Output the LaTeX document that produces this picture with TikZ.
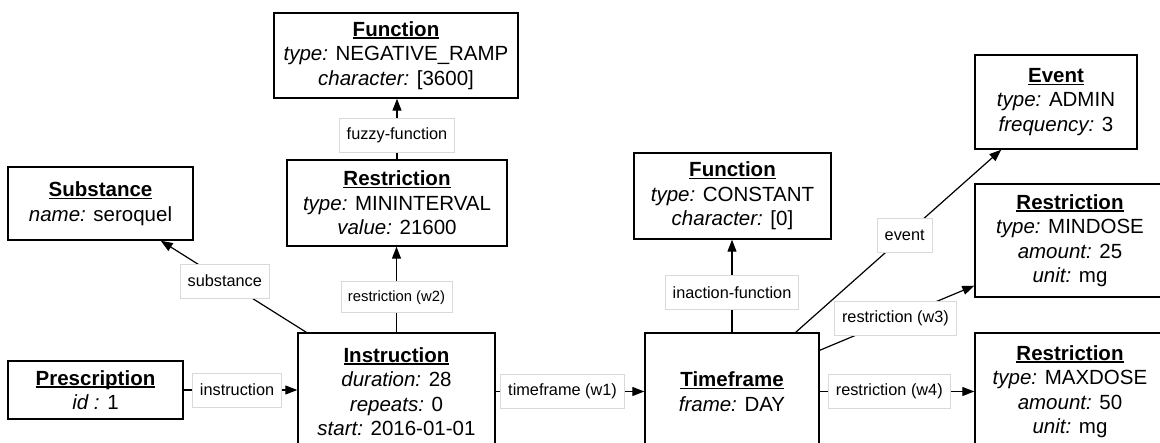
\documentclass[tikz,border=0pt]{standalone}
\usepackage{fontspec}
\setmainfont{Liberation Sans}
\usetikzlibrary{arrows.meta}
\newcommand{\hd}[1]{{\bfseries\setbox0=\hbox{#1}\rlap{\rule[-2.6pt]{\wd0}{1.4pt}}\box0}}
\newcommand{\ky}[1]{{\itshape #1}}
\tikzset{
  box/.style={draw=black, line width=1.4pt, align=center, inner sep=0pt,
    font=\fontsize{20.5}{24.5}\selectfont},
  lbl/.style={fill=white, draw=black!15, line width=0.8pt, inner xsep=7.5pt, inner ysep=0pt,
    minimum height=34pt, font=\fontsize{16.3}{19}\selectfont},
  lblsmall/.style={lbl, inner xsep=7pt, minimum height=31pt, font=\fontsize{14.8}{17}\selectfont},
  arr/.style={line width=1.2pt, -{Triangle[length=12pt,width=9pt]}}
}
\begin{document}
\begin{tikzpicture}[x=1pt,y=-1pt]
\useasboundingbox (0,0) rectangle (1160,443);
\clip (0,0) rectangle (1160,443);
\node[box, minimum width=244pt, minimum height=85pt] (fneg) at (396,55.5)
  {\hd{Function}\\\ky{type:} NEGATIVE\_RAMP\\\ky{character:} [3600]};
\node[box, minimum width=220pt, minimum height=86pt] (restr) at (397,203)
  {\hd{Restriction}\\\ky{type:} MININTERVAL\\\ky{value:} 21600};
\node[box, minimum width=185pt, minimum height=73pt] (subst) at (100.5,203.5)
  {\hd{Substance}\\\ky{name:} seroquel};
\node[box, minimum width=175pt, minimum height=58pt] (presc) at (95.5,390)
  {\hd{Prescription}\\\ky{id :} 1};
\node[box, minimum width=197pt, minimum height=117pt] (instr) at (396.5,391.5)
  {\hd{Instruction}\\\ky{duration:} 28\\\ky{repeats:} 0\\\ky{start:} 2016-01-01};
\node[box, minimum width=197pt, minimum height=86pt] (fconst) at (732.5,196)
  {\hd{Function}\\\ky{type:} CONSTANT\\\ky{character:} [0]};
\node[box, minimum width=174pt, minimum height=117pt] (tf) at (732,391.5)
  {\hd{Timeframe}\\\ky{frame:} DAY};
\node[box, minimum width=162pt, minimum height=94pt] (event) at (1056,102)
  {\hd{Event}\\\ky{type:} ADMIN\\\ky{frequency:} 3};
\node[box, minimum width=190pt, minimum height=113pt] (mindose) at (1070,240.5)
  {\hd{Restriction}\\\ky{type:} MINDOSE\\\ky{amount:} 25\\\ky{unit:} mg};
\node[box, minimum width=190pt, minimum height=117pt] (maxdose) at (1070,391.5)
  {\hd{Restriction}\\\ky{type:} MAXDOSE\\\ky{amount:} 50\\\ky{unit:} mg};

\draw[arr] (presc.east) -- (presc.east -| instr.west) node[lbl,pos=0.47]{instruction};
\draw[arr] ([xshift=9pt]instr.north west) -- ([xshift=-33pt]subst.south east) node[lbl,pos=0.56]{substance};
\draw[arr] (instr.north) -- (instr.north |- restr.south) node[lblsmall,pos=0.41]{restriction (w2)};
\draw[arr] (restr.north) -- (restr.north |- fneg.south) node[lbl,pos=0.4]{fuzzy-function};
\draw[arr] (instr.east) -- (instr.east -| tf.west) node[lbl,pos=0.45]{timeframe (w1)};
\draw[arr] (tf.north) -- (tf.north |- fconst.south) node[lbl,pos=0.43]{inaction-function};
\draw[arr] ([xshift=-24pt]tf.north east) -- ([xshift=27pt]event.south west) node[lbl,pos=0.53]{event};
\draw[arr] ([yshift=-18pt]tf.north east) -- ([yshift=12pt]mindose.south west) node[lbl,pos=0.49]{restriction (w3)};
\draw[arr] (tf.east) -- (tf.east -| maxdose.west) node[lbl,pos=0.45]{restriction (w4)};
\end{tikzpicture}
\end{document}
